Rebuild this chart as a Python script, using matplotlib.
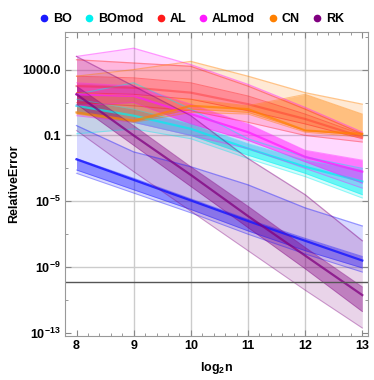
import numpy as np
import matplotlib.pyplot as plt
from matplotlib.lines import Line2D

plt.rcParams['font.family'] = ['Liberation Sans', 'DejaVu Sans']
plt.rcParams['mathtext.fontset'] = 'custom'
plt.rcParams['mathtext.rm'] = 'Liberation Sans'
plt.rcParams['mathtext.bf'] = 'Liberation Sans:bold'
plt.rcParams['mathtext.it'] = 'Liberation Sans:italic'

# log2 n
n = [8, 9, 10, 11, 12, 13]

# all values are log10 of the relative error
# (outer lo, outer hi, inner lo, inner hi, median)
bo = dict(
    olo=[-3.3, -4.5, -5.7, -7.0, -8.2, -9.3],
    ohi=[-0.4, -2.0, -2.9, -4.0, -5.4, -6.5],
    ilo=[-3.1, -4.3, -5.5, -6.8, -8.0, -9.05],
    ihi=[-2.4, -3.6, -4.85, -6.1, -7.25, -8.35],
    med=[-2.45, -3.7, -4.95, -6.2, -7.4, -8.6])
bomod = dict(
    olo=[-0.9, -0.6, -1.2, -2.4, -3.5, -4.8],
    ohi=[1.5, 2.2, 0.6, -1.2, -2.3, -3.0],
    ilo=[0.4, -0.2, -1.0, -2.2, -3.3, -4.6],
    ihi=[1.2, 0.6, -0.3, -1.5, -2.5, -3.1],
    med=[0.8, 0.2, -0.6, -1.8, -2.9, -3.8])
al = dict(
    olo=[1.0, 0.8, 0.5, -0.2, -1.0, -1.4],
    ohi=[3.6, 3.4, 3.2, 2.0, 0.6, -0.9],
    ilo=[1.6, 1.5, 1.2, 0.5, -0.3, -1.2],
    ihi=[2.6, 2.5, 2.2, 1.4, 0.3, -0.95],
    med=[2.0, 1.9, 1.6, 0.9, 0.0, -1.1])
almod = dict(
    olo=[0.2, -0.2, -1.0, -1.8, -3.0, -4.2],
    ohi=[3.8, 4.3, 3.3, 2.1, 0.7, -0.8],
    ilo=[0.8, 1.0, -0.3, -1.3, -2.6, -3.9],
    ihi=[2.2, 2.0, 0.9, -0.3, -1.9, -2.5],
    med=[1.5, 1.4, 0.3, -0.8, -2.3, -3.2])
cn = dict(
    olo=[0.3, -0.2, 0.4, 0.3, -0.8, -1.1],
    ohi=[2.6, 3.0, 3.5, 2.6, 1.6, 0.9],
    ilo=[0.35, -0.15, 0.6, 0.4, -0.7, -1.0],
    ihi=[1.6, 1.4, 1.2, 0.8, 1.5, 0.3],
    med=[0.4, -0.1, 0.8, 0.6, -0.7, -0.9])
rk = dict(
    olo=[-0.7, -3.2, -5.6, -8.0, -10.4, -12.7],
    ohi=[3.8, 2.0, 0.2, -2.4, -4.6, -7.4],
    ilo=[0.9, -1.6, -4.1, -6.6, -9.1, -11.7],
    ihi=[2.0, -0.4, -2.9, -5.3, -7.8, -10.2],
    med=[1.5, -1.0, -3.4, -5.9, -8.3, -10.7])

methods = ['BO', 'BOmod', 'AL', 'ALmod', 'CN', 'RK']
series = [bo, bomod, al, almod, cn, rk]
colors = ['#1a1aff', '#00f0f0', '#ff1a1a', '#ff1aff', '#ff8000', '#800080']
inner_alpha = [0.4, 0.5, 0.25, 0.5, 0.4, 0.4]
med_alpha = [0.85, 0.7, 0.35, 0.7, 0.7, 0.75]

ref_level = -9.9  # horizontal reference line (log10)

fig = plt.figure(figsize=(3.74, 3.80), dpi=100)
ax = fig.add_axes([0.174, 0.116, 0.81, 0.80])

# grid
for g in [9, 10, 11, 12]:
    ax.axvline(g, color='#cccccc', lw=1, zorder=0)
for g in [1e3, 1e-1, 1e-5, 1e-9]:
    ax.axhline(g, color='#cccccc', lw=1, zorder=0)

x = np.array(n)
for s, c, ia, ma in zip(series, colors, inner_alpha, med_alpha):
    p = {k: 10.0 ** np.array(v) for k, v in s.items()}
    ax.fill_between(x, p['olo'], p['ohi'], color=c, alpha=0.17, lw=0)
    ax.plot(x, p['olo'], color=c, alpha=0.35, lw=0.8)
    ax.plot(x, p['ohi'], color=c, alpha=0.45, lw=0.9)
    ax.fill_between(x, p['ilo'], p['ihi'], color=c, alpha=ia, lw=0)
    ax.plot(x, p['ilo'], color=c, alpha=0.4, lw=0.7)
    ax.plot(x, p['ihi'], color=c, alpha=0.4, lw=0.7)
    ax.plot(x, p['med'], color=c, alpha=ma, lw=1.6)

ax.axhline(10.0 ** ref_level, color='#555555', lw=1)

ax.set_yscale('log')
ax.set_xlim(7.84, 13.1)
ax.set_ylim(10.0 ** -13.18, 10.0 ** 5.29)

ax.set_xticks(n)
ax.set_xticklabels([str(v) for v in n], fontsize=9, fontweight='bold')
ax.set_xticks(np.arange(7.8, 13.11, 0.2), minor=True)
ax.set_yticks([1e3, 1e-1, 1e-5, 1e-9, 1e-13])
ax.set_yticklabels(['1000.0', '0.1', r'$\mathbf{10^{-5}}$',
                    r'$\mathbf{10^{-9}}$', r'$\mathbf{10^{-13}}$'],
                   fontsize=9, fontweight='bold')
ax.set_yticks([1e5, 1e1, 1e-3, 1e-7, 1e-11], minor=True)
ax.yaxis.set_minor_formatter(plt.NullFormatter())
ax.tick_params(which='both', direction='in', top=True, right=True,
               color='#888888', pad=3)
ax.tick_params(which='major', length=4)
ax.tick_params(which='minor', length=2.5)
for sp in ax.spines.values():
    sp.set_color('#999999')

ax.set_xlabel(r'$\mathbf{log_2 n}$', fontsize=9, labelpad=6)
ax.set_ylabel('RelativeError', fontsize=9, fontweight='bold', labelpad=2)

handles = [Line2D([], [], marker='o', ls='', color=c, markersize=4.5) for c in colors]
fig.legend(handles, methods, loc='upper center', bbox_to_anchor=(0.51, 0.995),
           ncol=6, frameon=False, handletextpad=0.2, columnspacing=0.9,
           handlelength=1.0, prop={'size': 9, 'weight': 'bold'})

fig.savefig('out.png', dpi=100)
